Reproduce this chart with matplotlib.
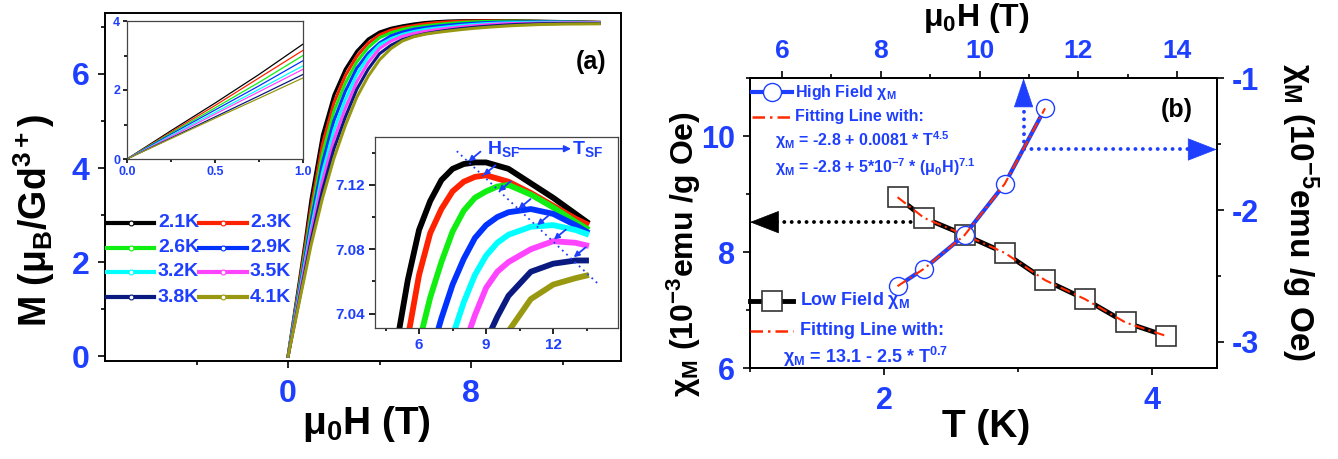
import matplotlib
matplotlib.use("Agg")
import matplotlib.pyplot as plt
from matplotlib.lines import Line2D

plt.rcParams['font.family'] = ['Liberation Sans', 'DejaVu Sans']
plt.rcParams['font.weight'] = 'bold'
plt.rcParams['axes.unicode_minus'] = False
plt.rcParams['mathtext.fontset'] = 'custom'
plt.rcParams['mathtext.rm'] = 'Liberation Sans:bold'
plt.rcParams['mathtext.bf'] = 'Liberation Sans:bold'
plt.rcParams['mathtext.it'] = 'Liberation Sans:bold:italic'
plt.rcParams['mathtext.default'] = 'bf'

# ---- data: M(H) curves, panel (a) ----
TEMPS = ['2.1K', '2.3K', '2.6K', '2.9K', '3.2K', '3.5K', '3.8K', '4.1K']
COLORS = ['#000000', '#ff2200', '#11ee11', '#0033ff', '#00ffff', '#ff44ff', '#0a1a80', '#999911']

H_GRID = [0, 0.25, 0.5, 0.75, 1, 1.5, 2, 2.5, 3, 3.5, 4, 4.5, 5, 5.5, 6, 6.5, 7, 7.5,
          8, 8.5, 9, 9.5, 10, 11, 12, 13, 13.6]
M_21 = [0, 0.82, 1.62, 2.45, 3.33, 4.70, 5.55, 6.10, 6.48, 6.74, 6.89, 6.97, 7.021, 7.061,
        7.092, 7.110, 7.123, 7.130, 7.133, 7.134, 7.134, 7.132, 7.130, 7.121, 7.112, 7.102, 7.096]
M_23 = [0, 0.78, 1.55, 2.35, 3.15, 4.50, 5.38, 5.96, 6.37, 6.65, 6.83, 6.93, 6.985, 7.025,
        7.064, 7.090, 7.105, 7.116, 7.122, 7.125, 7.126, 7.124, 7.122, 7.115, 7.107, 7.099, 7.095]
M_26 = [0, 0.75, 1.48, 2.22, 3.00, 4.30, 5.20, 5.80, 6.25, 6.56, 6.77, 6.875, 6.945, 6.99,
        7.022, 7.050, 7.072, 7.091, 7.104, 7.112, 7.116, 7.119, 7.120, 7.114, 7.106, 7.097, 7.092]
M_29 = [0, 0.72, 1.42, 2.12, 2.85, 4.10, 5.00, 5.63, 6.12, 6.44, 6.66, 6.81, 6.89, 6.95,
        6.985, 7.013, 7.037, 7.058, 7.074, 7.087, 7.095, 7.100, 7.103, 7.105, 7.102, 7.095, 7.090]
M_32 = [0, 0.68, 1.35, 2.02, 2.70, 3.90, 4.80, 5.45, 5.98, 6.36, 6.62, 6.75, 6.84, 6.90,
        6.945, 6.975, 7.002, 7.026, 7.047, 7.064, 7.076, 7.084, 7.089, 7.094, 7.095, 7.092, 7.089]
M_35 = [0, 0.65, 1.30, 1.95, 2.60, 3.72, 4.60, 5.27, 5.83, 6.24, 6.54, 6.70, 6.80, 6.86,
        6.905, 6.94, 6.97, 6.996, 7.019, 7.039, 7.056, 7.066, 7.072, 7.080, 7.085, 7.084, 7.082]
M_38 = [0, 0.61, 1.22, 1.83, 2.45, 3.52, 4.40, 5.08, 5.67, 6.10, 6.43, 6.61, 6.73, 6.80,
        6.855, 6.895, 6.93, 6.96, 6.985, 7.006, 7.023, 7.038, 7.051, 7.066, 7.071, 7.073, 7.073]
M_41 = [0, 0.59, 1.18, 1.76, 2.35, 3.35, 4.20, 4.90, 5.50, 5.95, 6.30, 6.54, 6.70, 6.79,
        6.845, 6.88, 6.91, 6.938, 6.962, 6.983, 7.000, 7.016, 7.029, 7.049, 7.058, 7.062, 7.064]
M_CURVES = [M_21, M_23, M_26, M_29, M_32, M_35, M_38, M_41]

# spin-flop guide in the lower inset
SF_LINE_H = [7.69, 13.97]
SF_LINE_M = [7.141, 7.059]
SF_H = [8.21, 8.88, 9.56, 10.45, 11.28, 12.03, 12.92]
SF_M = [7.1345, 7.126, 7.116, 7.105, 7.095, 7.086, 7.075]

# ---- data: chi(T), panel (b) ----
T_LOW = [2.1, 2.3, 2.6, 2.9, 3.2, 3.5, 3.8, 4.1]
CHI_LOW = [8.95, 8.59, 8.30, 7.99, 7.52, 7.19, 6.79, 6.56]
T_HIGH = [2.1, 2.3, 2.6, 2.9, 3.2]
CHI_HIGH = [-2.577, -2.443, -2.19, -1.80, -1.228]

W, H = 1338, 459
BLUE = '#1f3fff'
RED = '#ff2a00'


def fx(x):
    return x / W


def fy(y):
    return 1 - y / H


def box(l, t, r, b):
    return [fx(l), fy(b), (r - l) / W, (b - t) / H]


def style(ax, size, major=5, minor=3):
    ax.tick_params(which='both', direction='out', width=1.2, labelcolor=BLUE,
                   labelsize=size, color='black')
    ax.tick_params(which='major', length=major)
    ax.tick_params(which='minor', length=minor)
    for lab in ax.get_xticklabels() + ax.get_yticklabels():
        lab.set_fontweight('bold')
    for s in ax.spines.values():
        s.set_linewidth(1.4)


fig = plt.figure(figsize=(W / 100, H / 100), dpi=100)

# ================= panel (a) =================
axa = fig.add_axes(box(105, 12.7, 621, 361))
for m, c in zip(M_CURVES, COLORS):
    axa.plot(H_GRID, m, color=c, lw=2.2)
axa.set_xlim(-8, 14.55)
axa.set_ylim(-0.1, 7.3)
axa.set_xticks([0, 8])
axa.set_xticks([-4, 4, 12], minor=True)
axa.set_yticks([0, 2, 4, 6])
axa.set_yticks([1, 3, 5, 7], minor=True)
style(axa, 23)
axa.tick_params(axis='y', pad=6)
axa.tick_params(axis='x', pad=8)
axa.text(0.942, 0.858, '(a)', transform=axa.transAxes, fontsize=18, ha='center',
         va='center', color='black')

fig.text(fx(34), fy(220), r'M ($\mathbf{\mu_B}$/Gd$^{\mathbf{3+}}$)', rotation=90,
         fontsize=27, ha='center', va='center')
fig.text(fx(366), fy(424), r'$\mathbf{\mu_0}$H (T)', fontsize=28, ha='center', va='center')

# legend
rows = [222.7, 247.7, 272, 297]
for i, (lab, c) in enumerate(zip(TEMPS, COLORS)):
    r, col = divmod(i, 2)
    x0, x1, xt = [(107, 154, 158), (199, 247, 250)][col]
    y = fy(rows[r])
    fig.add_artist(Line2D([fx(x0), fx(x1)], [y, y], color=c, lw=3))
    fig.add_artist(Line2D([fx((x0 + x1) / 2)], [y], color=c, marker='o', ms=3.5,
                          mfc='white', mec=c, mew=0.8))
    fig.text(fx(xt), y, lab, color=BLUE, fontsize=14, va='center', ha='left')

# upper-left inset
ax1 = fig.add_axes(box(127, 21, 303, 159))
for m, c in zip(M_CURVES, COLORS):
    ax1.plot(H_GRID, m, color=c, lw=0.9)
ax1.set_xlim(0, 1)
ax1.set_ylim(0, 4)
ax1.set_xticks([0, 0.5, 1.0])
ax1.set_xticklabels(['0.0', '0.5', '1.0'])
ax1.set_xticks([0.25, 0.75], minor=True)
ax1.set_yticks([0, 2, 4])
ax1.set_yticks([1, 3], minor=True)
style(ax1, 9, 3, 2)
ax1.tick_params(pad=2)
for s in ax1.spines.values():
    s.set_linewidth(0.9)
    s.set_color('#444444')

# lower-right inset
ax2 = fig.add_axes(box(375, 136.7, 618, 328))
for m, c in zip(M_CURVES, COLORS):
    ax2.plot(H_GRID, m, color=c, lw=4.2, solid_capstyle='butt')
ax2.set_xlim(4.03, 14.9)
ax2.set_ylim(7.031, 7.150)
ax2.set_xticks([6, 9, 12])
ax2.set_xticks([4.5, 7.5, 10.5, 13.5], minor=True)
ax2.set_yticks([7.04, 7.08, 7.12])
ax2.set_yticklabels(['7.04', '7.08', '7.12'])
ax2.set_yticks([7.06, 7.10, 7.14], minor=True)
style(ax2, 11, 4, 2.5)
ax2.tick_params(pad=3)
for s in ax2.spines.values():
    s.set_linewidth(0.9)
    s.set_color('#444444')
ax2.plot(SF_LINE_H, SF_LINE_M, color=BLUE, lw=1.3, ls=(0, (1, 2.2)))
for h, m in zip(SF_H, SF_M):
    ax2.annotate('', xy=(h, m), xytext=(12, 10), textcoords='offset pixels',
                 arrowprops=dict(arrowstyle='-|>', color=BLUE, lw=1.3, mutation_scale=8,
                                 shrinkA=0, shrinkB=0))
ax2.text(9.05, 7.1425, r'H$_{\mathbf{SF}}$', color=BLUE, fontsize=14, va='center')
ax2.annotate('', xy=(12.8, 7.1425), xytext=(10.45, 7.1425),
             arrowprops=dict(arrowstyle='-|>', color=BLUE, lw=1.2, mutation_scale=10,
                             shrinkA=0, shrinkB=0))
ax2.text(12.85, 7.1425, r'T$_{\mathbf{SF}}$', color=BLUE, fontsize=14, va='center')

# ================= panel (b) =================
axb = fig.add_axes(box(750, 78.3, 1216.7, 368.3))
axb.set_xlim(1.0, 4.48)
axb.set_ylim(6, 11)
axr = axb.twinx()
axr.set_ylim(-3.2, -1.0)
axt = axb.twiny()
axt.set_xlim(5.35, 14.8)

axb.plot(T_LOW, CHI_LOW, color='black', lw=3.5, marker='s', ms=14, mfc='white',
         mec='#333333', mew=1.2, zorder=3)
axb.plot(T_LOW, CHI_LOW, color=RED, lw=1.5, ls=(0, (5, 2, 1, 2)), zorder=4)
axr.plot(T_HIGH, CHI_HIGH, color=BLUE, lw=3, marker='o', ms=13, mfc='white',
         mec=BLUE, mew=1.0, zorder=3)
axr.plot(T_HIGH, CHI_HIGH, color=RED, lw=1.5, ls=(0, (5, 2, 1, 2)), zorder=4)

DOT = (0, (0.01, 1.9))
# black arrow to the left axis
axb.plot([2.25, 1.12], [8.52, 8.52], color='black', lw=2.8, ls=DOT, dash_capstyle='round')
axb.annotate('', xy=(1.0, 8.52), xytext=(1.2, 8.52),
             arrowprops=dict(arrowstyle='-|>,head_length=0.9,head_width=0.35', color='black',
                             lw=0.5, mutation_scale=22, shrinkA=0, shrinkB=0))
# blue arrows to top and right axes
axr.plot([3.04, 3.04], [-1.54, -1.15], color=BLUE, lw=2.8, ls=DOT, dash_capstyle='round')
axr.annotate('', xy=(3.04, -1.0), xytext=(3.04, -1.2),
             arrowprops=dict(arrowstyle='-|>,head_length=0.9,head_width=0.3', color=BLUE,
                             lw=0.5, mutation_scale=22, shrinkA=0, shrinkB=0))
axr.plot([3.04, 4.35], [-1.54, -1.54], color=BLUE, lw=2.8, ls=DOT, dash_capstyle='round')
axr.annotate('', xy=(4.48, -1.54), xytext=(4.28, -1.54),
             arrowprops=dict(arrowstyle='-|>,head_length=0.9,head_width=0.35', color=BLUE,
                             lw=0.5, mutation_scale=22, shrinkA=0, shrinkB=0))

axb.set_xticks([2, 4])
axb.set_xticks([1, 3], minor=True)
axb.set_yticks([6, 8, 10])
axb.set_yticks([7, 9, 11], minor=True)
axr.set_yticks([-1, -2, -3])
axr.set_yticks([-1.5, -2.5], minor=True)
axt.set_xticks([6, 8, 10, 12, 14])
axt.set_xticks([7, 9, 11, 13], minor=True)
for a in (axb, axr, axt):
    style(a, 22)
axb.tick_params(axis='x', pad=8)
axb.tick_params(axis='y', pad=6)
axr.tick_params(axis='y', pad=6)
axt.tick_params(axis='x', labelsize=19, pad=6)
axb.text(0.915, 0.89, '(b)', transform=axb.transAxes, fontsize=18, ha='center', va='center')

fig.text(fx(684), fy(254), r'$\chi_M$ (10$^{-3}$emu /g Oe)', rotation=90, fontsize=23,
         ha='center', va='center')
fig.text(fx(1300), fy(212), r'$\chi_M$ (10$^{-5}$emu /g Oe)', rotation=270, fontsize=24,
         ha='center', va='center')
fig.text(fx(986), fy(427), 'T (K)', fontsize=28, ha='center', va='center')
fig.text(fx(976), fy(18), r'$\mathbf{\mu_0}$H (T)', fontsize=23, ha='center', va='center')

# legend of panel (b)
def leg(x0, x1, y, **kw):
    fig.add_artist(Line2D([fx(x0), fx(x1)], [fy(y), fy(y)], **kw))


leg(751.7, 791.7, 92.3, color=BLUE, lw=3)
fig.add_artist(Line2D([fx(771.7)], [fy(92.3)], marker='o', ms=13, mfc='white', mec=BLUE,
                      mew=1.0))
fig.text(fx(795), fy(92.3), r'High Field $\chi_M$', color=BLUE, fontsize=11.5, va='center')
leg(751.7, 791.7, 116.7, color=RED, lw=1.8, ls=(0, (5, 2, 1, 2)))
fig.text(fx(795), fy(116.7), 'Fitting Line with:', color=BLUE, fontsize=11.5, va='center')
fig.text(fx(775), fy(140), r'$\chi_M$ = -2.8 + 0.0081 * T$^{4.5}$', color=BLUE,
         fontsize=11.5, va='center')
fig.text(fx(775), fy(166.7), r'$\chi_M$ = -2.8 + 5*10$^{-7}$ * ($\mu_0$H)$^{7.1}$',
         color=BLUE, fontsize=11.5, va='center')

leg(750, 793, 300.7, color='black', lw=3.5)
fig.add_artist(Line2D([fx(771.5)], [fy(300.7)], marker='s', ms=14, mfc='white',
                      mec='#333333', mew=1.2))
fig.text(fx(800), fy(300.7), r'Low Field $\chi_M$', color=BLUE, fontsize=13, va='center')
leg(750, 793, 330.7, color=RED, lw=1.8, ls=(0, (5, 2, 1, 2)))
fig.text(fx(800), fy(330.7), 'Fitting Line with:', color=BLUE, fontsize=13, va='center')
fig.text(fx(783), fy(356.7), r'$\chi_M$ = 13.1 - 2.5 * T$^{0.7}$', color=BLUE,
         fontsize=13, va='center')

fig.savefig('out.png', dpi=100)
